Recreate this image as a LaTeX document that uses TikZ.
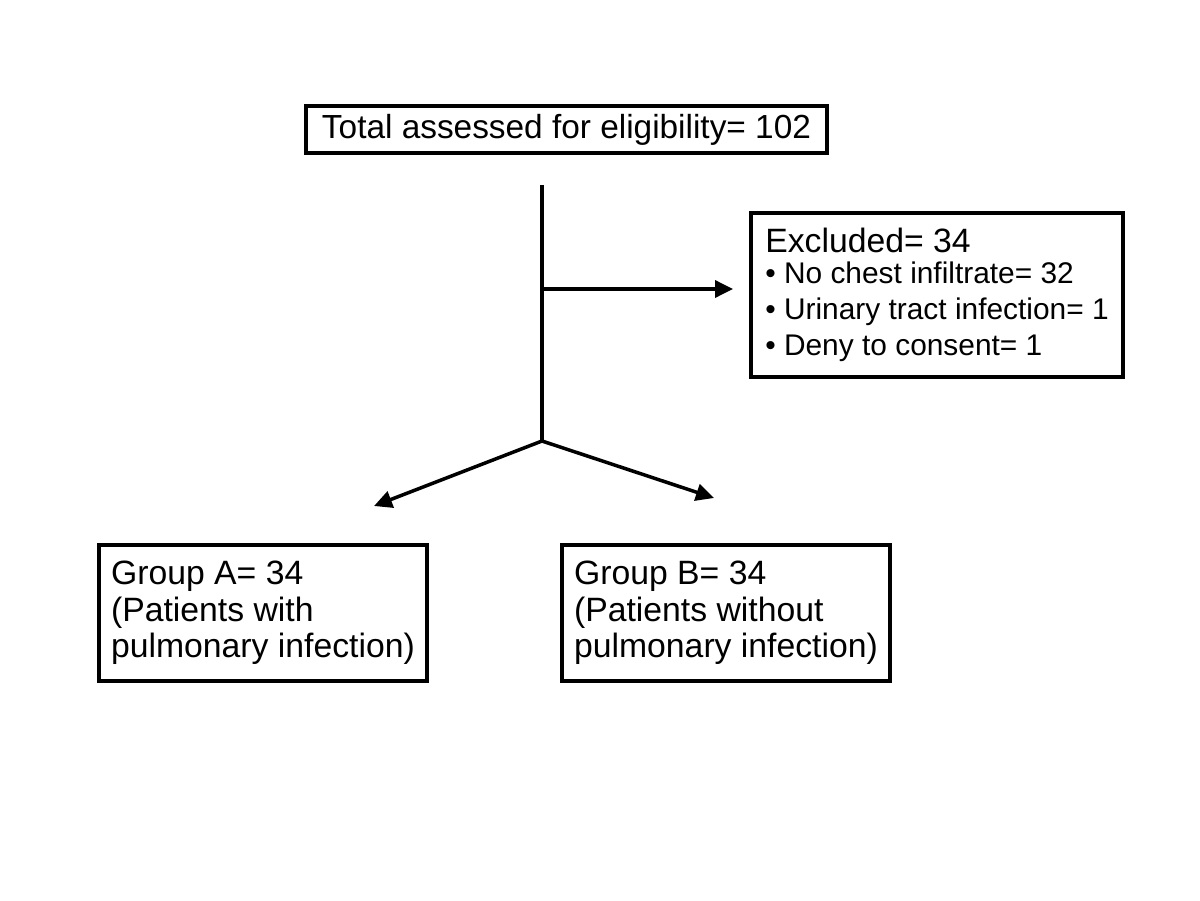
\documentclass[tikz,border=0pt]{standalone}
\usepackage{fontspec}
\setmainfont{Liberation Sans}
\usepackage{tikz}
\usetikzlibrary{arrows.meta}

\tikzset{
  box/.style={draw, line width=2pt, inner xsep=0.15cm, align=left},
  link/.style={line width=2pt},
  arr/.style={line width=2pt, -{Triangle[length=0.36cm, width=0.34cm]}}
}

\begin{document}
\begin{tikzpicture}

\useasboundingbox (0, 0) rectangle (24, 18);

\node [box, minimum width=10.42cm, minimum height=0.94cm, align=center] (total) at (11.33, 15.41)
  {\fontsize{19}{21}\selectfont Total assessed for eligibility= 102};
\node [box, minimum width=7.44cm, minimum height=3.28cm, font=\fontsize{17}{20.5}\selectfont] (excl) at (18.74, 12.1)
  {{\fontsize{19.2}{20.5}\selectfont Excluded= 34}\\[-3pt]
   \textbullet\ No chest infiltrate= 32\\
   \textbullet\ Urinary tract infection= 1\\
   \textbullet\ Deny to consent= 1};
\node [box, minimum width=6.56cm, minimum height=2.72cm, font=\fontsize{19.2}{20.7}\selectfont] (groupa) at (5.26, 5.74)
  {Group A= 34\\(Patients with\\pulmonary infection)};
\node [box, minimum width=6.56cm, minimum height=2.72cm, font=\fontsize{19.2}{20.7}\selectfont] (groupb) at (14.52, 5.74)
  {Group B= 34\\(Patients without\\pulmonary infection)};

\coordinate (stem) at (10.84, 14.3);
\coordinate (split) at (10.84, 9.18);
\coordinate (branch) at (10.84, 12.22);
\coordinate (exclend) at (14.66, 12.22);
\coordinate (aend) at (7.48, 7.88);
\coordinate (bend) at (14.28, 8.04);

\draw [link] (stem) -- (split);
\draw [arr] (branch) -- (exclend);
\draw [arr] (split) -- (aend);
\draw [arr] (split) -- (bend);

\end{tikzpicture}
\end{document}
